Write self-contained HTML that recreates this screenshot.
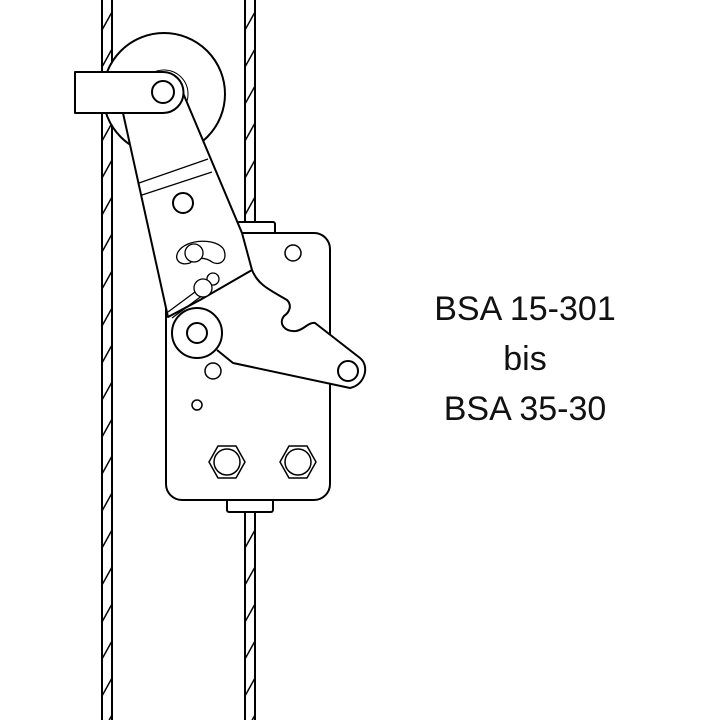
<!DOCTYPE html>
<html><head><style>body{margin:0;background:#fff}svg{display:block}</style></head>
<body>
<svg width="720" height="720" viewBox="0 0 720 720" xmlns="http://www.w3.org/2000/svg">
<defs>
<pattern id="hl" x="102" y="0" width="10" height="37" patternUnits="userSpaceOnUse">
<line x1="0" y1="30" x2="10" y2="12" stroke="#000" stroke-width="1.5"/>
</pattern>
<pattern id="hr" x="245" y="0" width="10" height="37" patternUnits="userSpaceOnUse">
<line x1="0" y1="30" x2="10" y2="12" stroke="#000" stroke-width="1.5"/>
</pattern>
</defs>
<g stroke="#000" stroke-width="2" fill="none">
<rect x="102" y="0" width="10" height="720" fill="url(#hl)" stroke="none"/>
<rect x="245" y="0" width="10" height="720" fill="url(#hr)" stroke="none"/>
<line x1="102" y1="0" x2="102" y2="720"/><line x1="112" y1="0" x2="112" y2="720"/>
<line x1="245" y1="0" x2="245" y2="720"/><line x1="255" y1="0" x2="255" y2="720"/>
</g>
<g stroke="#000" stroke-width="2" fill="#fff" stroke-linejoin="round">
<rect x="237" y="222" width="38" height="12" rx="2"/>
<rect x="227" y="490" width="46" height="22" rx="2"/>
<circle cx="164" cy="94" r="61"/>
<circle cx="164" cy="94" r="24" stroke-width="1"/>
<rect x="166" y="233" width="164" height="267" rx="16"/>
<path d="M228,330 L315,323 L360,358 C370,366 365,385 350,388 L233,363 L217,350 Z" stroke="none"/>
<path d="M123,113 L183,93 L242,233 L252,270 L200,300 L168,317 Z"/>
<path d="M252,270 C258,285 270,290 287,300 C292,305 290,312 284,316 C278,324 285,332 296,331 C304,330 308,322 315,323 L360,358 C370,366 365,385 350,388 L233,363 L217,350" fill="none"/>
<line x1="139" y1="183" x2="208" y2="159" stroke-width="1.2"/>
<line x1="142" y1="195" x2="212" y2="172" stroke-width="1.2"/>
<path d="M75,72 L163,72 A20.5,20.5 0 0 1 163,113 L75,113 Z"/>
<circle cx="163" cy="92" r="11"/>
<circle cx="183" cy="203" r="10"/>
<path d="M178,252 C186,238 218,238 224,250 C228,262 218,266 212,262 C204,256 194,258 190,263 C180,266 174,260 178,252 Z" stroke-width="1.3"/>
<circle cx="194" cy="253" r="9" stroke-width="1.3"/>
<circle cx="213" cy="279" r="6" stroke-width="1.3"/>
<line x1="168" y1="312" x2="199" y2="289" stroke-width="1.3"/>
<line x1="172" y1="318" x2="203" y2="295" stroke-width="1.3"/>
<circle cx="203" cy="288" r="9" stroke-width="1.3"/>
<circle cx="197" cy="333" r="25"/>
<circle cx="197" cy="333" r="10"/>
<circle cx="348" cy="371" r="10"/>
<circle cx="293" cy="253" r="8" stroke-width="1.5"/>
<circle cx="213" cy="371" r="8" stroke-width="1.5"/>
<circle cx="197" cy="405" r="5" stroke-width="1.5"/>
<polygon points="209,462 218,446 236,446 245,462 236,478 218,478" stroke-width="1.5"/>
<circle cx="227" cy="462" r="13" stroke-width="1.5"/>
<polygon points="280,462 289,446 307,446 316,462 307,478 289,478" stroke-width="1.5"/>
<circle cx="298" cy="462" r="13" stroke-width="1.5"/>
</g>
<g font-family="Liberation Sans, sans-serif" font-size="34" text-anchor="middle" fill="#111">
<text x="525" y="320">BSA 15-301</text>
<text x="525" y="370">bis</text>
<text x="525" y="420">BSA 35-30</text>
</g>
</svg>
</body></html>
